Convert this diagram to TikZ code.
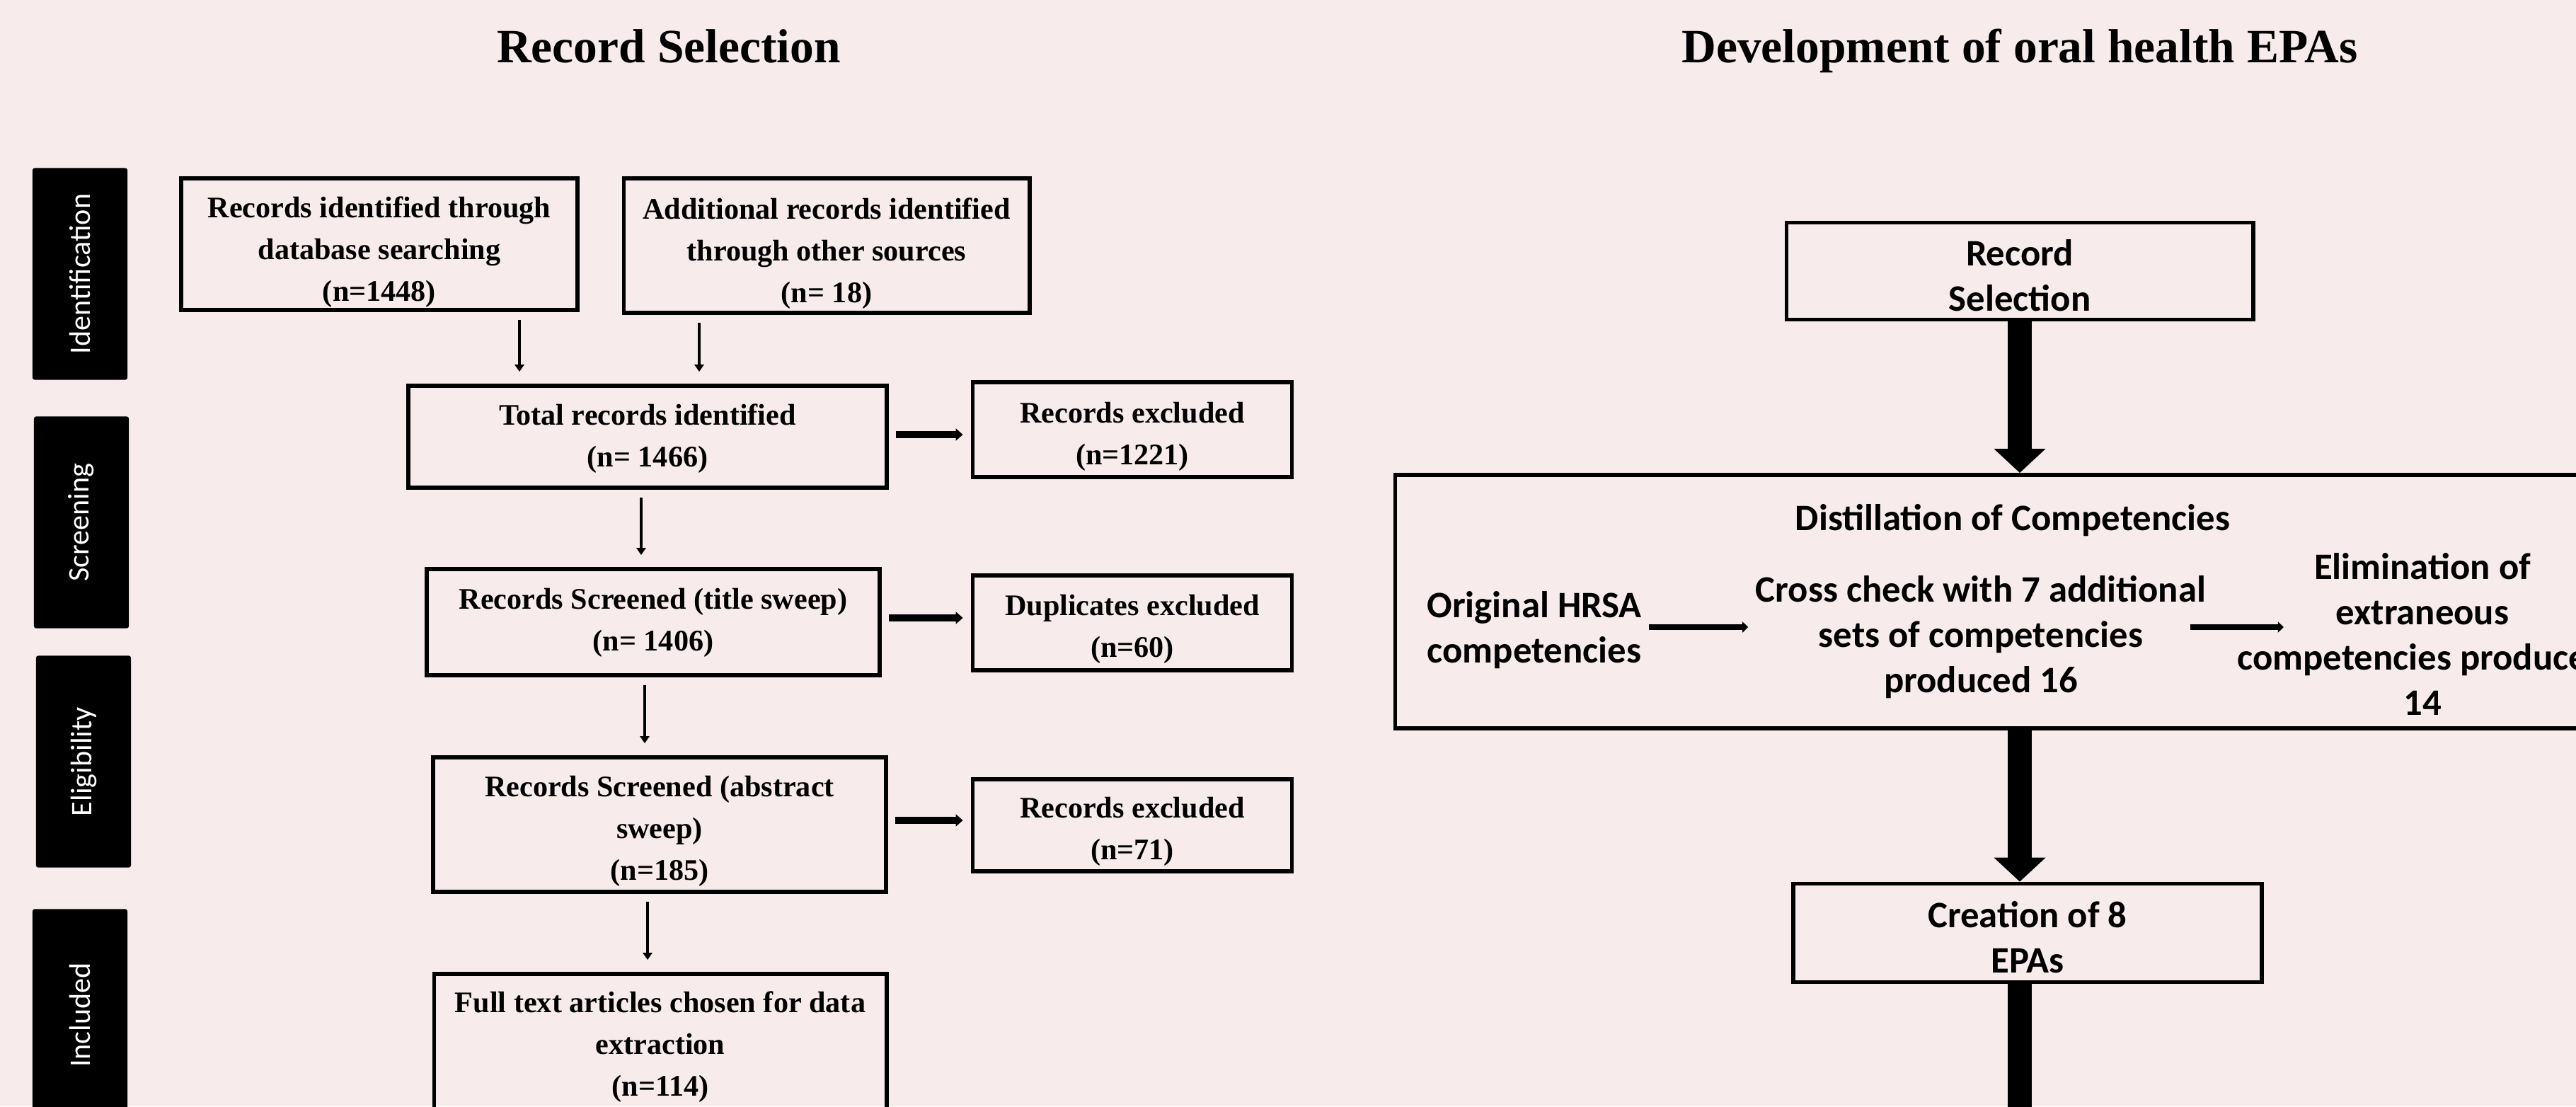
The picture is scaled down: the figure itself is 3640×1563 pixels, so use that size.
\documentclass[tikz,border=0pt]{standalone}
\usepackage{fontspec}
\setmainfont{Liberation Serif}
\newfontfamily\calibri{Carlito}
\usetikzlibrary{arrows.meta}
\definecolor{bgpink}{RGB}{247,235,235}
\newcommand{\padtop}[1]{\rule{0pt}{#1}}

\begin{document}
\begin{tikzpicture}[x=0.01cm,y=-0.01cm,
  recbox/.style={draw,line width=1.6pt,align=center,inner sep=0pt,font=\fontsize{12}{16.8}\selectfont\bfseries},
  epabox/.style={draw,line width=1.6pt,align=center,inner sep=0pt,font=\calibri\fontsize{15}{18.2}\selectfont\bfseries},
  epatext/.style={align=center,inner sep=0.1cm,font=\calibri\fontsize{15}{18.2}\selectfont\bfseries},
  sidebar/.style={fill=black,rounded corners=0.03cm,rotate=90,text=white,minimum width=2.99cm,minimum height=1.34cm,inner sep=0pt,font=\calibri\fontsize{12}{14}\selectfont},
  thinarrow/.style={line width=1.2pt,-{Triangle[width=0.13cm,length=0.1cm]},shorten <=0.11cm,shorten >=0.17cm},
  wideshaft/.style={line width=2.6pt,-{Triangle[width=0.17cm,length=0.1cm]},shorten <=0.1cm,shorten >=0.11cm},
  linkarrow/.style={line width=2.2pt,-{Triangle[width=0.15cm,length=0.08cm]}},
  bigarrow/.style={line width=0.34cm,-{Triangle[width=0.71cm,length=0.34cm]}}]
\useasboundingbox (0,0) rectangle (3640,1563);
\fill[bgpink] (0,0) rectangle (3640,1563);
% titles
\node[anchor=base,font=\fontsize{19.2}{23}\selectfont\bfseries] (titleleft) at (945,88) {Record Selection};
\node[anchor=base,font=\fontsize{19.2}{23}\selectfont\bfseries] (titleright) at (2854,88) {Development of oral health EPAs};
% phase bars on the left
\foreach \x/\y/\lab/\nm in {113/387/Identification/ident, 115/738/Screening/screen, 118/1076/Eligibility/elig, 113/1434/Included/incl}
\node[sidebar] (\nm) at (\x,\y) {\lab};
% record selection boxes
\node[recbox,minimum width=5.6cm,minimum height=1.86cm] (box1) at (536,345) {\padtop{14.8pt}Records identified through\\database searching\\(n=1448)};
\node[recbox,minimum width=5.73cm,minimum height=1.9cm] (box2) at (1168,347) {\padtop{14.8pt}Additional records identified\\through other sources\\(n= 18)};
\node[recbox,minimum width=6.76cm,minimum height=1.44cm] (box3) at (915,617) {\padtop{10pt}Total records identified\\(n= 1466)};
\node[recbox,minimum width=4.51cm,minimum height=1.34cm] (box4) at (1600,607) {\padtop{13.8pt}Records excluded\\(n=1221)};
\node[recbox,minimum width=6.4cm,minimum height=1.5cm] (box5) at (923,879) {\padtop{9pt}Records Screened (title sweep)\\(n= 1406)};
\node[recbox,minimum width=4.51cm,minimum height=1.34cm] (box6) at (1600,880) {\padtop{13.5pt}Duplicates excluded\\(n=60)};
\node[recbox,minimum width=6.4cm,minimum height=1.9cm] (box7) at (932,1165) {\padtop{13.5pt}Records Screened (abstract\\sweep)\\(n=185)};
\node[recbox,minimum width=4.51cm,minimum height=1.3cm] (box8) at (1600,1166) {\padtop{13.5pt}Records excluded\\(n=71)};
\node[recbox,minimum width=6.39cm,minimum height=1.96cm] (box9) at (933,1474) {\padtop{11.5pt}Full text articles chosen for data\\extraction\\(n=114)};
\foreach \a/\b/\x in {box1/box3/734, box2/box3/988, box3/box5/906, box5/box7/911, box7/box9/915} % down arrows
\draw[thinarrow] (\a.south -| \x,0) -- (\b.north -| \x,0);
\foreach \a/\b/\y in {box3/box4/614, box5/box6/873, box7/box8/1159} % exclusions
\draw[wideshaft] (\a.east |- 0,\y) -- (\b.west |- 0,\y);
% development of EPAs
\node[epabox,minimum width=6.59cm,minimum height=1.37cm] (rs) at (2854,383) {\padtop{13.8pt}Record\\Selection};
\node[draw,line width=1.6pt,minimum width=17.3cm,minimum height=3.58cm] (distill) at (2837,850) {};
\node[epatext] (distlabel) at (2844,735) {Distillation of Competencies};
\node[epatext] (orig) at (2168,890) {Original HRSA\\competencies};
\node[epatext] (cross) at (2799,900) {Cross check with 7 additional\\sets of competencies\\produced 16};
\node[epatext] (elim) at (3423,896) {Elimination of\\extraneous\\competencies produced\\14};
\node[epabox,minimum width=6.62cm,minimum height=1.39cm] (creation) at (2865,1318) {\padtop{13.8pt}Creation of 8\\EPAs};
\coordinate (tail) at (2854,1600);
\draw[linkarrow] ([yshift=0.04cm]orig.east) -- ([yshift=0.04cm]orig.east -| cross.west);
\draw[linkarrow] ([xshift=-0.33cm,yshift=0.04cm]cross.east |- orig.east) -- ([xshift=0.76cm,yshift=0.04cm]elim.west |- orig.east);
\draw[bigarrow] (rs.south) -- (rs.south |- distill.north);
\draw[bigarrow] (distill.south -| rs.south) -- (rs.south |- creation.north);
\draw[line width=0.34cm] (creation.south -| rs.south) -- (tail);
\end{tikzpicture}
\end{document}
